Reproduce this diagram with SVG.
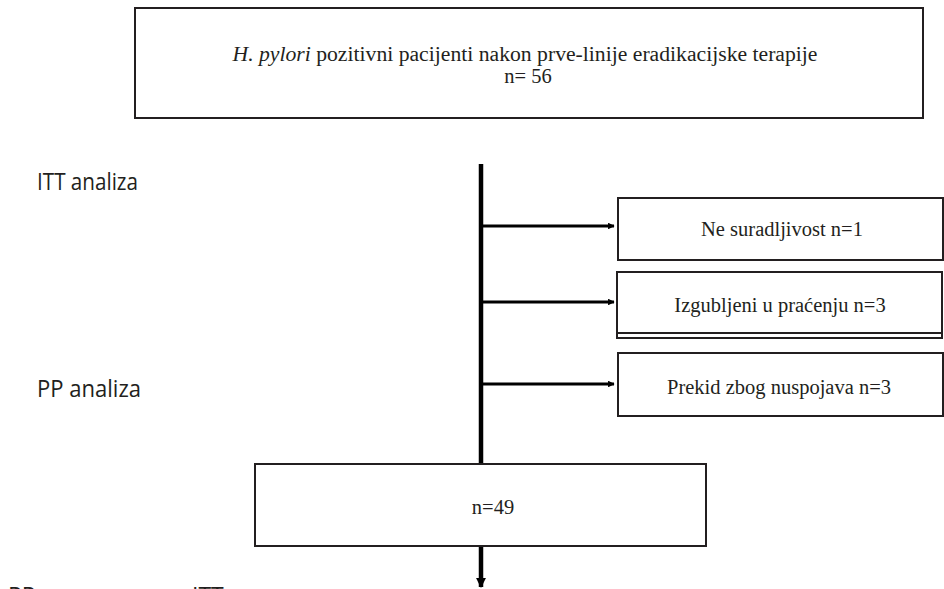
<svg xmlns="http://www.w3.org/2000/svg" width="944" height="589" viewBox="0 0 944 589">
<style>
.box{fill:#fff;stroke:#231f20;stroke-width:2}
.t{font-family:"Liberation Serif","Times New Roman",serif;font-size:20.5px;fill:#231f20;text-anchor:middle}
.lab{font-family:"Open Sans","Noto Sans",sans-serif;font-size:23px;fill:#231f20}
.ln{stroke:#000;fill:none}
</style>
<defs>
<marker id="ah" viewBox="0 0 10 10" refX="9" refY="5" markerWidth="2.2" markerHeight="2.2" orient="auto" markerUnits="strokeWidth">
<path d="M0,0 L10,5 L0,10 z" fill="#000"/>
</marker>
</defs>
<g id="labels">
<text class="lab" x="37" y="190" textLength="101" lengthAdjust="spacingAndGlyphs">ITT analiza</text>
<text class="lab" x="37" y="397" textLength="104" lengthAdjust="spacingAndGlyphs">PP analiza</text>
<text class="lab" x="8" y="604">PP naspram <tspan x="192">ITT</tspan></text>
</g>
<g id="connectors">
<line class="ln" x1="481" y1="164" x2="481" y2="465" stroke-width="4.5"/>
<line class="ln" x1="481" y1="226" x2="614" y2="226" stroke-width="3" marker-end="url(#ah)"/>
<line class="ln" x1="481" y1="302" x2="614" y2="302" stroke-width="3" marker-end="url(#ah)"/>
<line class="ln" x1="481" y1="384" x2="614" y2="384" stroke-width="3" marker-end="url(#ah)"/>
<line class="ln" x1="481" y1="546" x2="481" y2="587" stroke-width="4.5" marker-end="url(#ah)"/>
</g>
<g id="top">
<rect class="box" x="135" y="8" width="788" height="110"/>
<text class="t" x="525" y="61" textLength="585" lengthAdjust="spacingAndGlyphs"><tspan font-style="italic">H. pylori</tspan> pozitivni pacijenti nakon prve-linije eradikacijske terapije</text>
<text class="t" x="528" y="83">n= 56</text>
</g>
<g id="nesuradljivost">
<rect class="box" x="618" y="198" width="325" height="62"/>
<text class="t" x="782" y="236">Ne suradljivost n=1</text>
</g>
<g id="izgubljeni">
<rect class="box" x="617" y="272" width="325" height="66" stroke-width="1.5"/>
<rect class="box" x="617" y="272" width="325" height="61"/>
<text class="t" x="780" y="312">Izgubljeni u praćenju n=3</text>
</g>
<g id="prekid">
<rect class="box" x="618" y="353" width="325" height="63"/>
<text class="t" x="779" y="394">Prekid zbog nuspojava n=3</text>
</g>
<g id="n49">
<rect class="box" x="255" y="464" width="451" height="82"/>
<text class="t" x="493" y="514">n=49</text>
</g>
</svg>
